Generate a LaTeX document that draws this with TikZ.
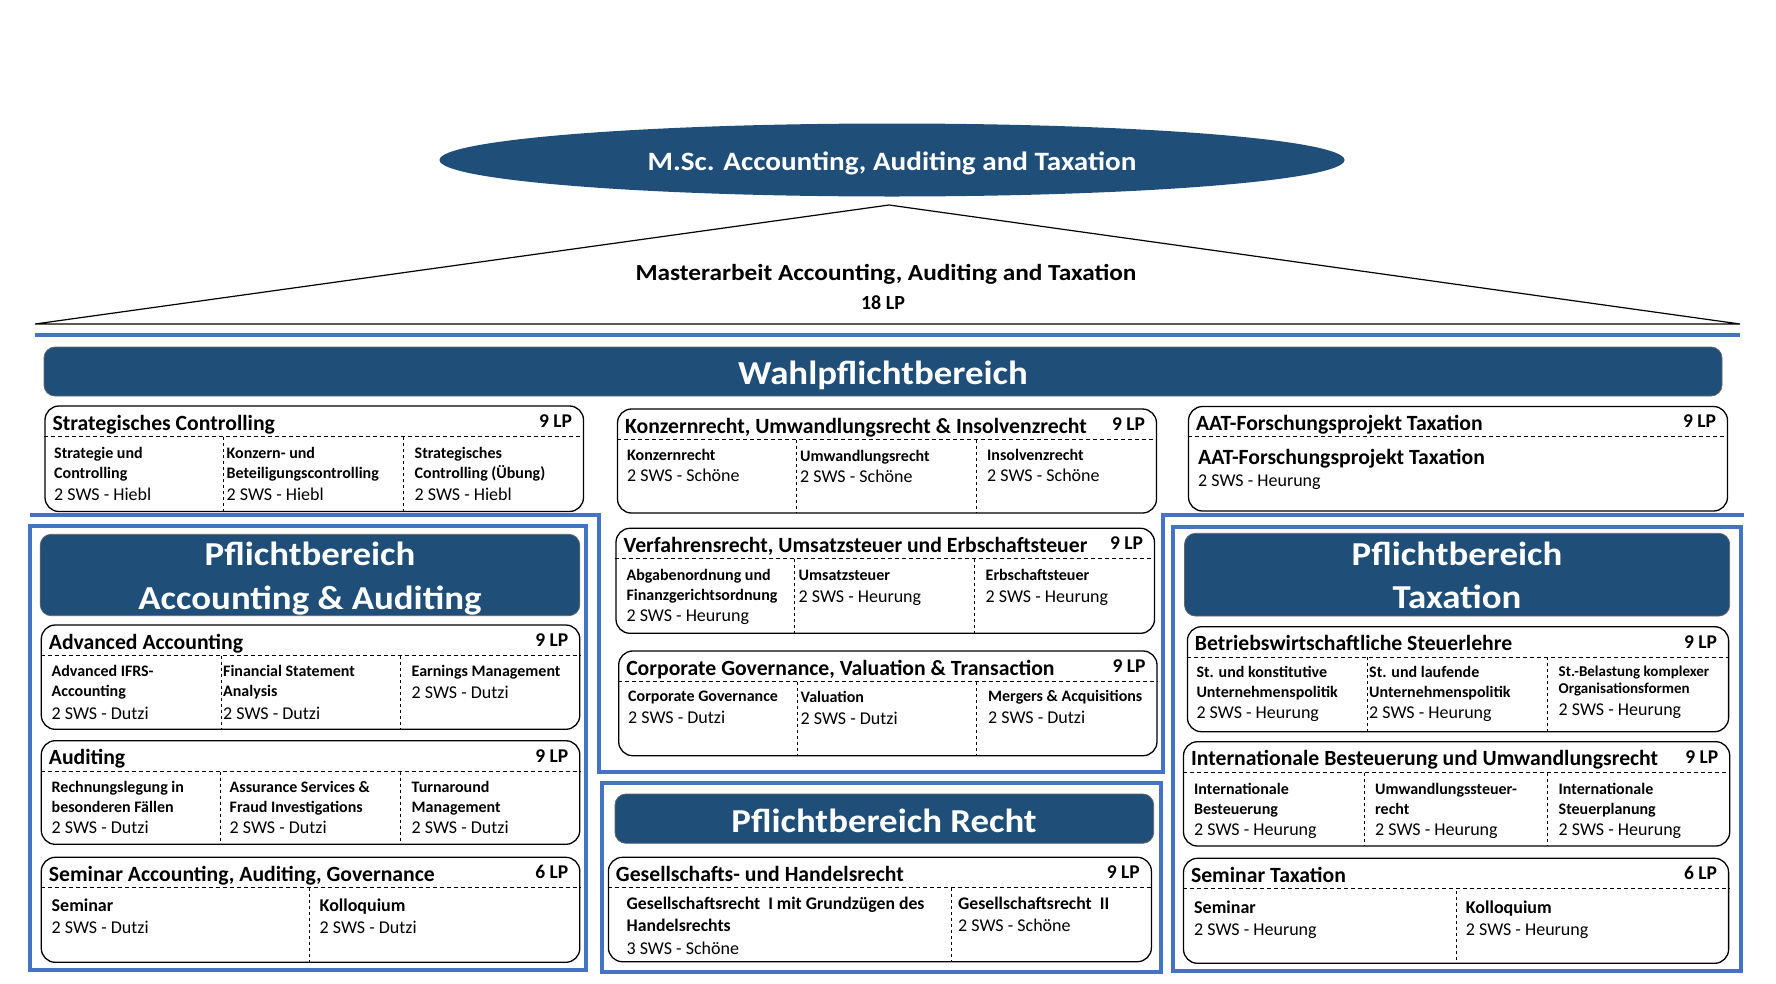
\documentclass[tikz,border=0pt]{standalone}
\usepackage{fontspec}
\setmainfont{Carlito}
\newfontfamily\widefont[FakeStretch=1.1]{Carlito}
\usetikzlibrary{shapes.geometric,fit}
\definecolor{navy}{RGB}{31,78,121}
\definecolor{frameblue}{RGB}{68,114,196}
\newcommand\sws{\mdseries\fontsize{18}{20}\selectfont}
\tikzset{mod/.style={draw,line width=1.3pt,rounded corners=14pt,inner sep=0pt},
 band/.style={draw=black!60,line width=0.8pt,fill=navy,rounded corners=11pt,inner sep=0pt},
 bandtxt/.style={anchor=base,text=white,align=center,inner sep=0pt,font=\widefont\bfseries\fontsize{33.5}{44.5}\selectfont},
 frame/.style={draw=frameblue,line width=4pt},
 hd/.style={line width=1pt,dash pattern=on 4pt off 3pt},
 dv/.style={line width=0.8pt,dash pattern=on 3pt off 3pt},
 ttl/.style={anchor=base west,inner sep=0pt,font=\bfseries\fontsize{21.7}{24}\selectfont},
 lp/.style={anchor=base east,inner sep=0pt,font=\bfseries\fontsize{19.5}{22}\selectfont},
 sub/.style={anchor=base west,inner sep=0pt,align=left,font=\bfseries\fontsize{16}{20}\selectfont},
 sem/.style={sub,font=\bfseries\fontsize{18}{20}\selectfont}}
\newcommand\modhead[3]{%
 \draw[hd] ([yshift=-31pt]#1.north west) -- ([yshift=-31pt]#1.north east);
 \node[ttl] (#1-t) at ([xshift=8pt,yshift=-24.8pt]#1.north west) {#2};
 \node[lp] (#1-lp) at ([xshift=-12pt,yshift=-22pt]#1.north east) {#3};}

\begin{document}
\begin{tikzpicture}[x=1pt,y=-1pt]
\useasboundingbox (0,0) rectangle (1776,983);
\node[ellipse,fill=navy,minimum width=905pt,minimum height=73pt,inner sep=0pt] (msc) at (892,160) {};
\node[anchor=base,text=white,font=\widefont\bfseries\fontsize{26.5}{30}\selectfont] (msc-t) at (892,170.7) {M.Sc. Accounting, Auditing and Taxation};
\coordinate (tl) at (35,324); \coordinate (ap) at (889,205); \coordinate (tr) at (1740,324);
\draw[line width=1.2pt] (tl) -- (ap) -- (tr) -- cycle;
\node[anchor=base,font=\widefont\bfseries\fontsize{23}{26}\selectfont] (ma) at (886,280) {Masterarbeit Accounting, Auditing and Taxation};
\node[anchor=base,font=\bfseries\fontsize{20}{24}\selectfont] (ma-lp) at (883,309) {18 LP};
\draw[frame] (35,335) -- (1740,335);
\node[band,fit={(44,347)(1722,396)}] (wpb) {};
\node[bandtxt] (wpb-t) at (883,384) {Wahlpflichtbereich};
\draw[frame] (30,515) -- (599,515) -- (599,772) -- (1163,772) -- (1163,515) -- (1744,515);

\node[mod,fit={(45,406)(583.5,511.5)}] (sc) {};
\modhead{sc}{Strategisches Controlling}{9 LP}
\draw[dv] (223.5,437) -- (223.5,511.5); \draw[dv] (403.7,437) -- (403.7,511.5);
\node[sub] (sc-1) at (54,500.7) {Strategie und\\Controlling\\[2.4pt]\sws 2 SWS - Hiebl};
\node[sub] (sc-2) at (226.5,500.7) {Konzern- und\\Beteiligungscontrolling\\[2.4pt]\sws 2 SWS - Hiebl};
\node[sub] (sc-3) at (414.5,500.7) {Strategisches\\Controlling (Übung)\\[2.4pt]\sws 2 SWS - Hiebl};

\node[mod,fit={(617.5,409)(1156.5,513)}] (kr) {};
\modhead{kr}{Konzernrecht, Umwandlungsrecht \& Insolvenzrecht}{9 LP}
\draw[dv] (796.7,440) -- (796.7,513); \draw[dv] (976.5,440) -- (976.5,513);
\node[sub] (kr-1) at (627,481.7) {Konzernrecht\\[1.7pt]\sws 2 SWS - Schöne};
\node[sub] (kr-2) at (800,482.7) {Umwandlungsrecht\\[1.7pt]\sws 2 SWS - Schöne};
\node[sub] (kr-3) at (987,481.7) {Insolvenzrecht\\[1.7pt]\sws 2 SWS - Schöne};

\node[mod,fit={(1188.5,406.5)(1727.5,511)}] (aat) {};
\modhead{aat}{AAT-Forschungsprojekt Taxation}{9 LP}
\node[sub,font=\bfseries\fontsize{21.7}{22.7}\selectfont] (aat-1) at (1198,486.7) {AAT-Forschungsprojekt Taxation\\\sws 2 SWS - Heurung};

\node[mod,fit={(616,528.3)(1154.5,633.3)}] (vr) {};
\modhead{vr}{Verfahrensrecht, Umsatzsteuer und Erbschaftsteuer}{9 LP}
\draw[dv] (794.7,559.3) -- (794.7,633.3); \draw[dv] (974.6,559.3) -- (974.6,633.3);
\node[sub] (vr-1) at (626.4,621.7) {Abgabenordnung und\\Finanzgerichtsordnung\\[1.7pt]\sws 2 SWS - Heurung};
\node[sub] (vr-2) at (798.5,602.3) {Umsatzsteuer\\[2.3pt]\sws 2 SWS - Heurung};
\node[sub] (vr-3) at (985.5,602.3) {Erbschaftsteuer\\[2.3pt]\sws 2 SWS - Heurung};

\node[mod,fit={(618.7,651)(1157,755.7)}] (cg) {};
\modhead{cg}{Corporate Governance, Valuation \& Transaction}{9 LP}
\draw[dv] (797.4,682) -- (797.4,755.7); \draw[dv] (976.5,682) -- (976.5,755.7);
\node[sub] (cg-1) at (628,723.3) {Corporate Governance\\[1.6pt]\sws 2 SWS - Dutzi};
\node[sub] (cg-2) at (800.5,724.1) {Valuation\\[1.6pt]\sws 2 SWS - Dutzi};
\node[sub] (cg-3) at (988,723.3) {Mergers \& Acquisitions\\[1.6pt]\sws 2 SWS - Dutzi};

\draw[frame] (30,526) rectangle (586,970);
\node[band,fit={(40.2,534.3)(579.8,615.7)}] (paa) {};
\node[bandtxt] (paa-t) at (310,609.5) {Pflichtbereich\\Accounting \& Auditing};

\node[mod,fit={(41.3,625)(579.8,729.3)}] (aa) {};
\modhead{aa}{Advanced Accounting}{9 LP}
\draw[dv] (221.2,656) -- (221.2,729.3); \draw[dv] (400,656) -- (400,729.3);
\node[sub] (aa-1) at (51.5,719) {Advanced IFRS-\\Accounting\\[2.3pt]\sws 2 SWS - Dutzi};
\node[sub] (aa-2) at (223,719) {Financial Statement\\Analysis\\[2.3pt]\sws 2 SWS - Dutzi};
\node[sub] (aa-3) at (411.5,698.7) {Earnings Management\\[2pt]\sws 2 SWS - Dutzi};

\node[mod,fit={(41.3,740.7)(579.8,844.3)}] (au) {};
\modhead{au}{Auditing}{9 LP}
\draw[dv] (220.8,771.7) -- (220.8,844.3); \draw[dv] (400,771.7) -- (400,844.3);
\node[sub] (au-1) at (51.5,833.3) {Rechnungslegung in\\besonderen Fällen\\[1pt]\sws 2 SWS - Dutzi};
\node[sub] (au-2) at (229.5,833.3) {Assurance Services \&\\Fraud Investigations\\[1pt]\sws 2 SWS - Dutzi};
\node[sub] (au-3) at (411.5,833.3) {Turnaround\\Management\\[1pt]\sws 2 SWS - Dutzi};

\node[mod,fit={(41.3,857.3)(579.8,962.3)}] (sa) {};
\modhead{sa}{Seminar Accounting, Auditing, Governance}{6 LP}
\draw[dv] (309.2,888.3) -- (309.2,962.3);
\node[sem] (sa-1) at (51.5,933.3) {Seminar\\[1.6pt]\sws 2 SWS - Dutzi};
\node[sem] (sa-2) at (319.5,933.3) {Kolloquium\\[1.6pt]\sws 2 SWS - Dutzi};

\draw[frame] (602,783) rectangle (1161,972);
\node[band,fit={(615,794)(1153.7,843.3)}] (pr) {};
\node[bandtxt] (pr-t) at (884,832) {Pflichtbereich Recht};

\node[mod,fit={(608.4,857.3)(1151.4,961.7)}] (gh) {};
\modhead{gh}{Gesellschafts- und Handelsrecht}{9 LP}
\draw[dv] (951.7,888.3) -- (951.7,961.7);
\node[sub,font=\bfseries\fontsize{17.7}{22.4}\selectfont] (gh-1) at (626.4,954.7) {Gesellschaftsrecht~ I mit Grundzügen des\\Handelsrechts\\[0.6pt]\sws 3 SWS - Schöne};
\node[sub,font=\bfseries\fontsize{17.7}{22.4}\selectfont] (gh-2) at (958,931.7) {Gesellschaftsrecht~ II\\\sws 2 SWS - Schöne};

\draw[frame] (1173,527) rectangle (1741,971);
\node[band,fit={(1184.5,533.3)(1729.7,616)}] (ptx) {};
\node[bandtxt,font=\widefont\bfseries\fontsize{33.5}{43.3}\selectfont] (ptx-t) at (1457,608.3) {Pflichtbereich\\Taxation};

\node[mod,fit={(1187.4,626.7)(1728.6,731.7)}] (bs) {};
\modhead{bs}{Betriebswirtschaftliche Steuerlehre}{9 LP}
\draw[dv] (1367,657.3) -- (1367,731.7); \draw[dv] (1547,657.3) -- (1547,731.7);
\node[sub] (bs-1) at (1196.3,718.3) {St. und konstitutive\\Unternehmenspolitik\\[1pt]\sws 2 SWS - Heurung};
\node[sub] (bs-2) at (1369,718.3) {St. und laufende\\Unternehmenspolitik\\[1pt]\sws 2 SWS - Heurung};
\node[sub,font=\bfseries\fontsize{15}{16.6}\selectfont] (bs-3) at (1558.5,715) {St.-Belastung komplexer\\Organisationsformen\\[5.1pt]\sws 2 SWS - Heurung};

\node[mod,fit={(1183.5,741.7)(1729.7,846)}] (ib) {};
\modhead{ib}{Internationale Besteuerung und Umwandlungsrecht}{9 LP}
\draw[dv] (1364.4,772.7) -- (1364.4,846); \draw[dv] (1547.7,772.7) -- (1547.7,846);
\node[sub] (ib-1) at (1194,835) {Internationale\\Besteuerung\\[1pt]\sws 2 SWS - Heurung};
\node[sub] (ib-2) at (1375,835) {Umwandlungssteuer-\\recht\\[1pt]\sws 2 SWS - Heurung};
\node[sub] (ib-3) at (1558.5,835) {Internationale\\Steuerplanung\\[1pt]\sws 2 SWS - Heurung};

\node[mod,fit={(1183.5,858.3)(1728.6,963.3)}] (st) {};
\modhead{st}{Seminar Taxation}{6 LP}
\draw[dv] (1456.8,890.7) -- (1456.8,963.3);
\node[sem] (st-1) at (1194,935) {Seminar\\[1.7pt]\sws 2 SWS - Heurung};
\node[sem] (st-2) at (1465.7,935) {Kolloquium\\[1.7pt]\sws 2 SWS - Heurung};
\end{tikzpicture}
\end{document}
